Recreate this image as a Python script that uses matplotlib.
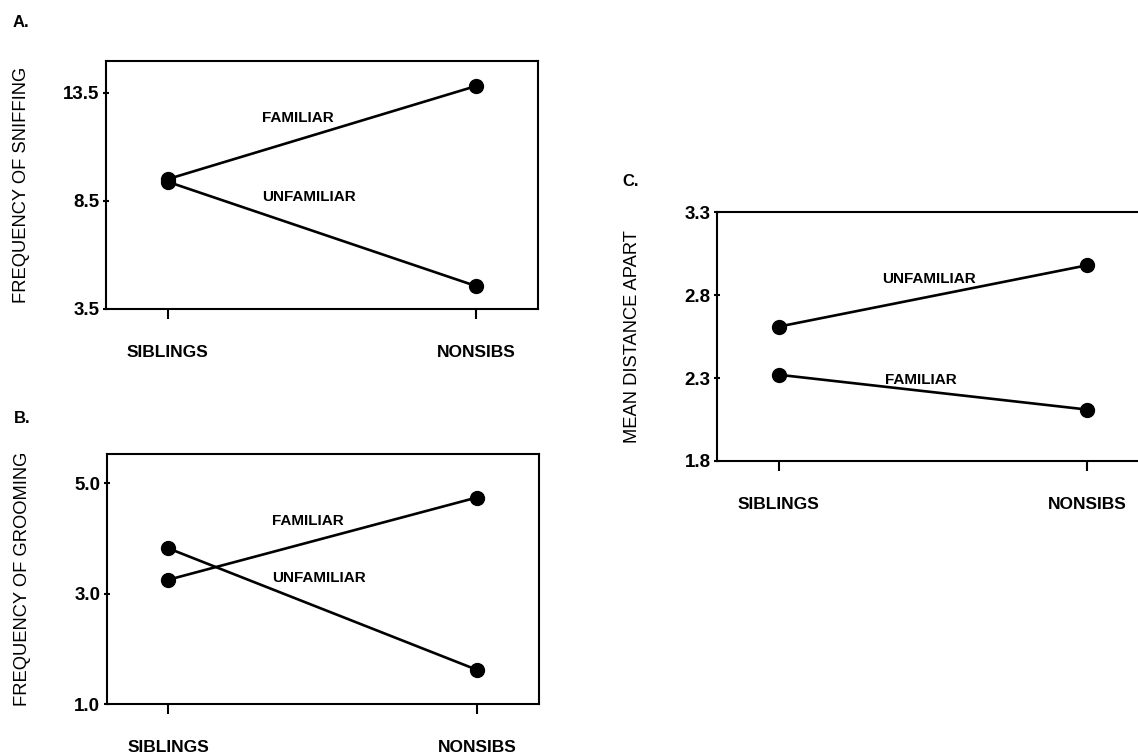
import matplotlib
matplotlib.use('Agg')
import matplotlib.pyplot as plt
from matplotlib.ticker import FormatStrFormatter

plt.rcParams['font.family'] = ['Liberation Sans', 'DejaVu Sans']

# Data
groups = ['SIBLINGS', 'NONSIBS']

sniff_familiar = [9.5, 13.82]
sniff_unfamiliar = [9.38, 4.54]

groom_familiar = [3.25, 4.74]
groom_unfamiliar = [3.82, 1.62]

dist_familiar = [2.32, 2.11]
dist_unfamiliar = [2.61, 2.98]

fig = plt.figure(figsize=(11.38, 7.54), dpi=100)

## Axes positions (fractions of figure)
ax_a = fig.add_axes([0.0931, 0.5908, 0.3796, 0.3289])
ax_b = fig.add_axes([0.0936, 0.0663, 0.3796, 0.3310])
ax_c = fig.add_axes([0.6300, 0.3886, 0.3796, 0.3300])


def draw_panel(ax, fam, unfam, ylim, yticks, ylabel, fam_pos, unfam_pos):
    x = list(range(len(groups)))
    ax.plot(x, fam, color='black', lw=1.9, marker='o', ms=10)
    ax.plot(x, unfam, color='black', lw=1.9, marker='o', ms=10)
    ax.text(fam_pos[0], fam_pos[1], 'FAMILIAR', fontsize=11, fontweight='bold',
            ha='left', va='center')
    ax.text(unfam_pos[0], unfam_pos[1], 'UNFAMILIAR', fontsize=11, fontweight='bold',
            ha='left', va='center')
    ax.set_xlim(-0.2, 1.2)
    ax.set_ylim(*ylim)
    ax.set_xticks(x)
    ax.set_xticklabels(groups, fontsize=12.5, fontweight='bold')
    ax.set_yticks(yticks)
    ax.yaxis.set_major_formatter(FormatStrFormatter('%.1f'))
    for lbl in ax.get_yticklabels():
        lbl.set_fontsize(13.5)
        lbl.set_fontweight('bold')
    ax.tick_params(axis='x', direction='out', length=7, width=1.5, pad=19)
    ax.tick_params(axis='y', direction='inout', length=5, width=1.5, pad=2)
    for sp in ax.spines.values():
        sp.set_linewidth(1.5)
    ax.set_ylabel(ylabel, fontsize=13.2)
    ax.yaxis.label.set_va('center')
    ax.yaxis.set_label_coords(-0.195, 0.5)


draw_panel(ax_a, sniff_familiar, sniff_unfamiliar, (3.5, 15.0), [3.5, 8.5, 13.5],
           'FREQUENCY OF SNIFFING', (0.307, 12.34), (0.307, 8.67))
draw_panel(ax_b, groom_familiar, groom_unfamiliar, (1.0, 5.52), [1.0, 3.0, 5.0],
           'FREQUENCY OF GROOMING', (0.336, 4.32), (0.336, 3.28))
draw_panel(ax_c, dist_familiar, dist_unfamiliar, (1.8, 3.3), [1.8, 2.3, 2.8, 3.3],
           'MEAN DISTANCE APART', (0.346, 2.29), (0.336, 2.90))

## Panel letters
fig.text(13 / 1138, 1 - 22.5 / 754, 'A.', fontsize=12, fontweight='bold', va='center')
fig.text(14 / 1138, 1 - 418.5 / 754, 'B.', fontsize=12, fontweight='bold', va='center')
fig.text(622 / 1138, 1 - 181 / 754, 'C.', fontsize=12, fontweight='bold', va='center')

fig.savefig('out.png', dpi=100)
